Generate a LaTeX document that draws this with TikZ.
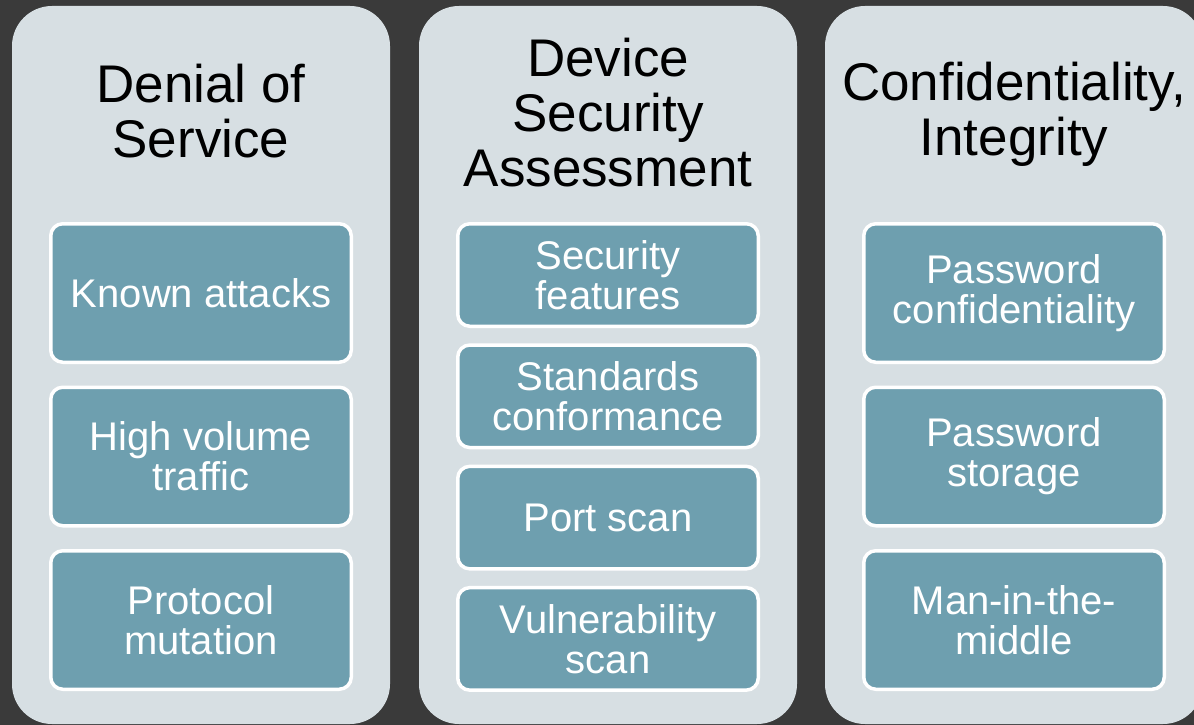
\documentclass[tikz,border=0pt]{standalone}
\usepackage{fontspec}
\setmainfont[Ligatures=NoCommon]{Liberation Sans}
\usepackage{xcolor}
\definecolor{slatebg}{HTML}{3A3A3A}
\definecolor{panelgray}{HTML}{D7DFE3}
\definecolor{itemteal}{HTML}{6E9FAF}
\usepackage{tikz}
\usetikzlibrary{positioning}

\begin{document}
\begin{tikzpicture}[
    x=1pt, y=-1pt,
    panel/.style={rectangle, fill=panelgray, rounded corners=40pt, minimum width=378pt, minimum height=718pt, inner sep=0pt},
    title/.style={align=center, text=black, font=\fontsize{53}{55}\selectfont, inner sep=0pt},
    item/.style={rectangle, rounded corners=12pt, draw=white, line width=3.5pt, fill=itemteal, text=white, align=center, minimum width=300.5pt, inner sep=0pt, outer sep=0pt, font=\fontsize{40}{40}\selectfont},
    tall/.style={item, minimum height=138.5pt},
    short/.style={item, minimum height=102.5pt}
]
\fill[slatebg] (0,0) rectangle (1194,725);
\useasboundingbox (0,0) rectangle (1194,725);
\clip (0,0) rectangle (1194,725);

% three columns
\node[panel] (dos) at (201,365) {};
\node[panel] (dev) at (608,365) {};
\node[panel] (conf) at (1014,365) {};

\node[title] (dostitle) at (201,111) {Denial of\\Service};
\node[title] (devtitle) at (608,113) {Device\\Security\\Assessment};
\node[title] (conftitle) at (1014,114) {Confidentiality,\\Integrity};

% denial of service
\node[tall] (known) at (201,293) {Known attacks};
\node[tall, below=25pt of known] (volume) {High volume\\traffic};
\node[tall, below=25pt of volume] (mutation) {Protocol\\mutation};

% device security
\node[short] (features) at (608,275) {Security\\features};
\node[short, below=18.8pt of features] (standards) {Standards\\conformance};
\node[short, below=18.8pt of standards] (portscan) {Port scan};
\node[short, below=18.8pt of portscan] (vulnscan) {Vulnerability\\scan};

% confidentiality
\node[tall] (pwconf) at (1014,293) {Password\\confidentiality};
\node[tall, below=25pt of pwconf] (pwstore) {Password\\storage};
\node[tall, below=25pt of pwstore] (mitm) {Man-in-the-\\middle};

\end{tikzpicture}
\end{document}
